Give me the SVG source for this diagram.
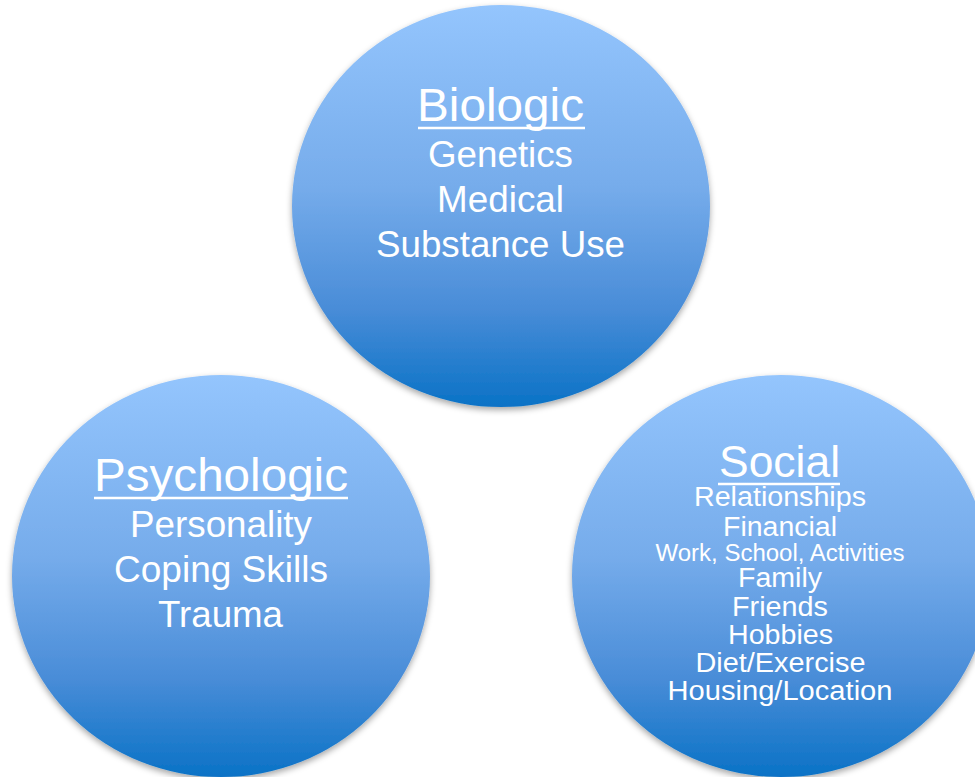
<svg xmlns="http://www.w3.org/2000/svg" width="975" height="777" viewBox="0 0 975 777">
  <defs>
    <linearGradient id="blue" x1="0" y1="0" x2="0" y2="1">
      <stop offset="0" stop-color="#94C5FD"/>
      <stop offset="0.45" stop-color="#76ACEB"/>
      <stop offset="0.75" stop-color="#4A8DD8"/>
      <stop offset="1" stop-color="#0A72C6"/>
    </linearGradient>
    <filter id="shadow" x="-10%" y="-10%" width="120%" height="125%">
      <feDropShadow dx="0" dy="3" stdDeviation="3" flood-color="#000" flood-opacity="0.35"/>
    </filter>
  </defs>
  <style>
    .circle { fill: url(#blue); filter: url(#shadow); }
    text { font-family: "Liberation Sans", Arial, sans-serif; fill: #FFFFFF; text-anchor: middle; }
    .title { font-size: 47px; }
    .item { font-size: 36px; }
    .soc { font-size: 27px; }
    .small { font-size: 23px; }
    .ul { stroke: #FFFFFF; stroke-width: 2.6; }
  </style>
  <rect width="975" height="777" fill="#FFFFFF"/>
  <g id="biologic">
    <ellipse class="circle" cx="501" cy="206" rx="209" ry="201"/>
    <text class="title" x="500.5" y="121" textLength="167" lengthAdjust="spacingAndGlyphs">Biologic</text>
    <line class="ul" x1="418" y1="128" x2="585" y2="128"/>
    <text class="item" x="500.5" y="167" textLength="145" lengthAdjust="spacingAndGlyphs">Genetics</text>
    <text class="item" x="500.5" y="212" textLength="127" lengthAdjust="spacingAndGlyphs">Medical</text>
    <text class="item" x="500.5" y="257" textLength="249" lengthAdjust="spacingAndGlyphs">Substance Use</text>
  </g>
  <g id="psychologic">
    <ellipse class="circle" cx="221" cy="576" rx="209" ry="201"/>
    <text class="title" x="221" y="491" textLength="254" lengthAdjust="spacingAndGlyphs">Psychologic</text>
    <line class="ul" x1="94" y1="498" x2="348" y2="498"/>
    <text class="item" x="221" y="537" textLength="182" lengthAdjust="spacingAndGlyphs">Personality</text>
    <text class="item" x="221" y="582" textLength="214" lengthAdjust="spacingAndGlyphs">Coping Skills</text>
    <text class="item" x="220.5" y="627" textLength="125" lengthAdjust="spacingAndGlyphs">Trauma</text>
  </g>
  <g id="social">
    <ellipse class="circle" cx="781" cy="576" rx="209" ry="201"/>
    <text x="779.5" y="477" style="font-size:44px" textLength="121" lengthAdjust="spacingAndGlyphs">Social</text>
    <line class="ul" x1="718" y1="484" x2="840" y2="484"/>
    <text class="soc" x="780" y="506" textLength="172" lengthAdjust="spacingAndGlyphs">Relationships</text>
    <text class="soc" x="780" y="536" textLength="114" lengthAdjust="spacingAndGlyphs">Financial</text>
    <text class="small" x="780" y="561" textLength="249" lengthAdjust="spacingAndGlyphs">Work, School, Activities</text>
    <text class="soc" x="780" y="587" textLength="84" lengthAdjust="spacingAndGlyphs">Family</text>
    <text class="soc" x="780" y="616" textLength="96" lengthAdjust="spacingAndGlyphs">Friends</text>
    <text class="soc" x="780.5" y="644" textLength="105" lengthAdjust="spacingAndGlyphs">Hobbies</text>
    <text class="soc" x="780.5" y="672" textLength="170" lengthAdjust="spacingAndGlyphs">Diet/Exercise</text>
    <text class="soc" x="780" y="700" textLength="225" lengthAdjust="spacingAndGlyphs">Housing/Location</text>
  </g>
  <g id="connectors"/>
</svg>
